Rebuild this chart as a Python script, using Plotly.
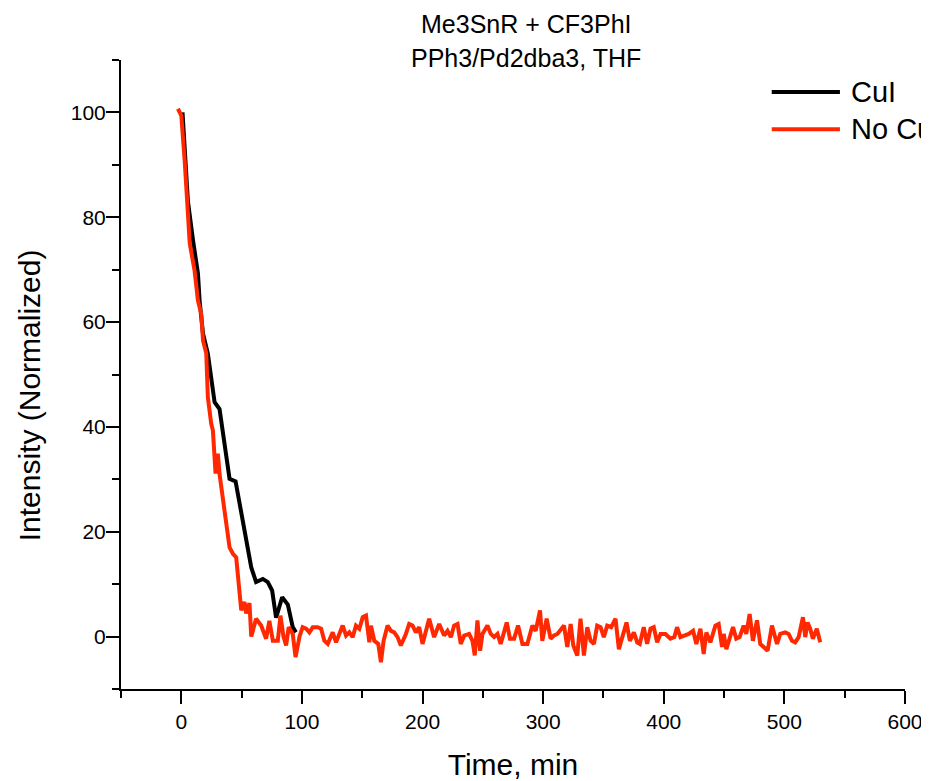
import plotly.graph_objects as go

# ---- data ----
cui_time = [1, 5.5, 9.7, 13.8, 15.2, 18, 22, 26.2, 27.6, 31.7, 40, 45, 58, 62,
            67.6, 71.7, 75.3, 78.6, 83.6, 88.3, 92.4, 95]
cui_int = [100, 83, 75.6, 69.3, 64, 57.8, 54, 46.4, 44.7, 43.4, 30.1, 29.6, 13.2,
           10.4, 11, 10.4, 8.8, 3.6, 7.5, 6.1, 1.8, 0.8]

nocui_time = [-2.8, 0, 2.8, 5.5, 7, 11, 13.8, 16.5, 18, 20.7, 22, 24.8, 26.2, 28.4,
              30.3, 31.7, 34.5, 40, 42.8, 45.5, 49.7, 52.4, 53.8, 56.5, 58, 62, 66.2,
              70.3, 73, 75.9, 80, 82.2, 84.7, 86.9, 89, 92.4, 94.7, 98, 100.6,
              103.5, 106.2, 109, 113, 115.9, 118.6, 121.4, 125.5, 128.3, 133.8, 136.6,
              139.3, 142.1, 144.8, 147.6, 150.4, 153.1, 155.9, 157.2, 160, 163.3, 165.5,
              167.7, 171, 173.8, 176.5, 179.3, 182, 186.2, 188.9, 191.7, 194.5, 197.2,
              200, 205.5, 209.6, 213.8, 217.9, 220.7, 223.5, 226.2, 229, 231.7, 234.5,
              238.6, 241.4, 243.3, 245.5, 247.7, 249.7, 253.8, 256.6, 259.3, 262.1,
              264.8, 269.8, 272.5, 275.9, 279.2, 282.8, 286.9, 291.1, 293.8, 297.4,
              299.3, 302.9, 306.2, 309, 311.8, 317.3, 320, 322.8, 325, 328.3, 331,
              333.8, 336.6, 339.3, 342.1, 344.8, 347.6, 350.3, 353.1, 356.4, 360, 362.8,
              365.5, 369.1, 371.9, 375.2, 378, 380.1, 383.4, 386.2, 389, 391.7, 394.5,
              397.3, 401.4, 405.5, 408.8, 411, 413.8, 417.9, 420.7, 424.3, 427, 430.4,
              433.1, 435.3, 438.6, 442.8, 445.5, 448.3, 449.7, 451.9, 454.6, 457.4,
              460.1, 462.9, 466.2, 468.4, 471.2, 473.9, 477.3, 480, 482.8, 486.1, 489.7,
              493.9, 496.6, 500.7, 503.5, 506.3, 509, 511.8, 515.4, 517.3, 519.2, 521.4,
              523.6, 526.9, 529.7]
nocui_int = [100.7, 99.4, 90.8, 81.3, 75, 69.8, 64.1, 61.6, 56.5, 54, 45.7, 40.6, 39.3,
             31.1, 34.9, 31, 26.6, 17, 15.8, 15.1, 5, 6.6, 4.4, 6.4, 0, 3.4, 2.1, -0.4,
             3, -0.8, -0.8, 4, 0, -1.7, 1.8, 0.5, -3.9, 0, 1.8,
             1.5, 0.8, 1.8, 1.8, 1.5, -0.8, -1.4, 0.8, -1.1, 2.1, 0.2,
             0.8, -0.1, 2.1, 1.5, 3.7, 4, -1.1, 2.1, -0.8, -1.4, -4.9,
             -0.8, 2.1, 1.1, 0.8, -0.1, -1.7, 0.5, 2.4, 2.1, 0.8, 1.8,
             -1.4, 3.4, -0.1, 2.4, 0.2, 1.1, -0.1, 2.1, 2.4, -1.4, 0.2,
             0.5, -0.8, -3.6, 3.1, -2.7, 0.5, 2.1, 0.5, -0.1, 0.5,
             -1.4, 2.7, -0.4, -0.4, 2.1, -1.4, -1.4, 2.1, 1.1, 5,
             -0.8, 3.4, -0.4, 0.2, 0.5, 2.1, -2, 2.4, -1.7, -3.6, 3.4,
             -3.6, 1.8, -0.8, -1.4, 2.1, 1.8, -0.1, 2.1, 1.8, 3.4, -2.4,
             -0.1, 2.7, -0.8, 0.8, -1.1, -1.4, 1.8, -1.4, 1.5, 1.8, -1.1,
             0.5, 0.5, -0.4, -0.1, 1.8, -0.1, 0.2, 0.5, 1.1, -1.4, 1.5,
             -3.3, 0.8, -1.1, 2.1, 2.4, -2, 0.5, -2.4, -0.4, 1.8,
             -0.4, -0.1, 2.1, 0.5, 4.3, -0.8, 3.1, -1.4, -2, -2.7, 2.1,
             -1.4, 0.5, 0.8, 0.5, -0.8, -1.1, -0.1, 3.7, -0.1, 2.7, 1.5,
             -0.4, 1.5, -1.1]

series_names = ["CuI", "No CuI"]
series_colors = ["#000000", "#FF2800"]
title_lines = ["Me3SnR + CF3PhI", "PPh3/Pd2dba3, THF"]
x_title = "Time, min"
y_title = "Intensity (Normalized)"

FONT = "Arial, Liberation Sans, sans-serif"

fig = go.Figure()
fig.add_trace(go.Scatter(x=cui_time, y=cui_int, mode="lines", name=series_names[0],
                         line=dict(color=series_colors[0], width=4), showlegend=False))
fig.add_trace(go.Scatter(x=nocui_time, y=nocui_int, mode="lines", name=series_names[1],
                         line=dict(color=series_colors[1], width=4), showlegend=False))

# manual legend (line sample + label), as in the reference
leg_y = [0.949, 0.890]
for name, col, yy in zip(series_names, series_colors, leg_y):
    fig.add_shape(type="line", xref="paper", yref="paper", x0=0.830, x1=0.917,
                  y0=yy, y1=yy, line=dict(color=col, width=4))
    fig.add_annotation(text=name, xref="paper", yref="paper", x=0.9286, y=yy,
                       xanchor="left", yanchor="middle", showarrow=False,
                       font=dict(family=FONT, size=29, color="#000"))

# title lines
for txt, yy in zip(title_lines, [1.0572, 1.0032]):
    fig.add_annotation(text=txt, xref="paper", yref="paper", x=0.5166, y=yy,
                       xanchor="center", yanchor="middle", showarrow=False,
                       font=dict(family=FONT, size=25, color="#000"))

# y-axis title (offset below the centre of the axis, as in the reference)
fig.add_annotation(text=y_title, xref="paper", yref="paper", x=-0.1173, y=0.467,
                   xanchor="center", yanchor="middle", textangle=-90, showarrow=False,
                   font=dict(family=FONT, size=30, color="#000"))

axis_common = dict(showgrid=False, zeroline=False, showline=True, linecolor="#000",
                   linewidth=2, ticks="outside", ticklen=13, tickwidth=2,
                   tickcolor="#000", tickfont=dict(family=FONT, size=21, color="#000"))

fig.update_xaxes(range=[-50, 600], tick0=0, dtick=100,
                 minor=dict(dtick=50, tick0=0, ticks="outside", ticklen=7,
                            tickwidth=2, tickcolor="#000"),
                 title=dict(text=x_title, font=dict(family=FONT, size=30, color="#000"),
                            standoff=22),
                 **axis_common)
fig.update_yaxes(range=[-10, 110], tick0=0, dtick=20,
                 minor=dict(dtick=10, tick0=0, ticks="outside", ticklen=7,
                            tickwidth=2, tickcolor="#000"),
                 ticklabelstandoff=-4,
                 **axis_common)

# page body has an 8px margin, so the figure is 8px smaller than the window
fig.update_layout(width=921, height=773,
                  margin=dict(l=113, r=24, t=52, b=92, autoexpand=False),
                  plot_bgcolor="white", paper_bgcolor="white")

fig.write_html("out.html")
